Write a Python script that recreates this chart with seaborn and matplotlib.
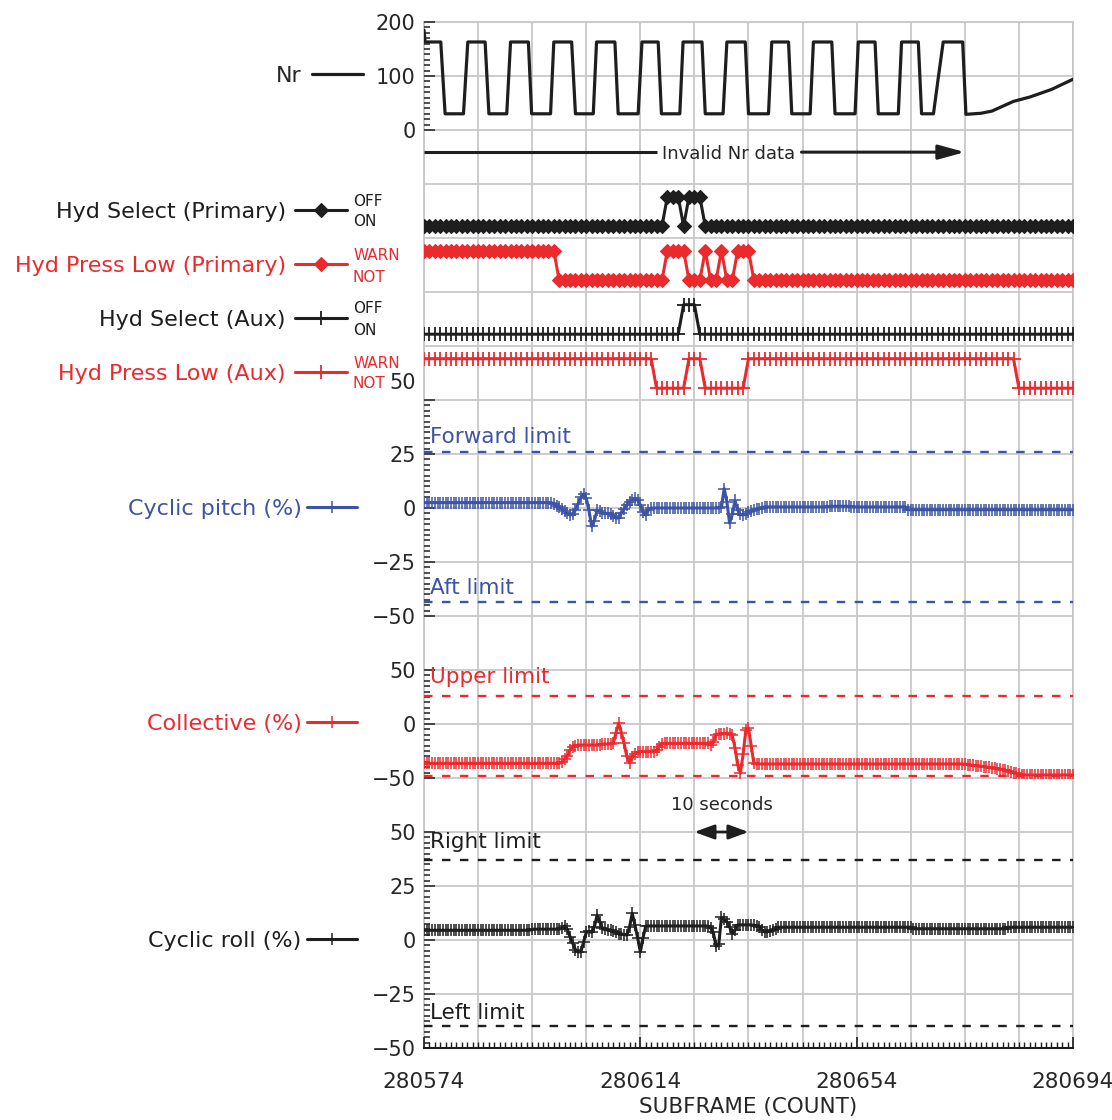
import numpy as np
import matplotlib
matplotlib.use("Agg")
import matplotlib.pyplot as plt
import seaborn as sns
from matplotlib.ticker import MultipleLocator

# ------------------------------------------------------------------ data
subframe_start, subframe_end = 280574, 280694
x_tick_values = [280574, 280614, 280654, 280694]
x_tick_labels = ["280574", "280614", "280654", "280694"]
x_axis_title = "SUBFRAME (COUNT)"

# Nr trace, corner points (offset from first subframe, value)
nr_offset = [0, 0.2, 3.1, 3.9, 7.3, 8.1, 11.3, 12.0, 15.3, 16.0, 19.3, 19.9,
             23.4, 24.0, 27.3, 28.0, 31.3, 31.9, 35.3, 35.9, 39.6, 40.3,
             43.3, 43.9, 47.3, 47.9, 51.4, 52.0, 55.3, 56.0, 59.4, 60.0,
             63.7, 64.3, 67.4, 68.0, 71.4, 72.0, 75.4, 76.0, 79.7, 80.3,
             83.4, 84.0, 87.7, 88.3, 91.4, 92.0, 94.2, 95.0, 96.0, 99.6,
             100.2, 103, 105, 107, 109, 112, 116, 120]
nr_value = [185, 163, 163, 30, 30, 163, 163, 30, 30, 163, 163, 30,
            30, 163, 163, 30, 30, 163, 163, 30, 30, 163,
            163, 30, 30, 163, 163, 30, 30, 163, 163, 30,
            30, 163, 163, 30, 30, 163, 163, 30, 30, 163,
            163, 30, 30, 163, 163, 30, 30, 90, 163, 163,
            29, 31, 35, 44, 53, 61, 75, 94]

# discrete channels, one sample per subframe (1 = OFF / WARN, 0 = ON / NOT)
hyd_select_primary = ("0000000000" "0000000000" "0000000000" "0000000000"
                      "0000011101" "1100000000" "0000000000" "0000000000"
                      "0000000000" "0000000000" "0000000000" "0000000000" "0")
hyd_press_low_primary = ("1111111111" "1111111111" "1111100000" "0000000000"
                         "0000011110" "0010010011" "1000000000" "0000000000"
                         "0000000000" "0000000000" "0000000000" "0000000000" "0")
hyd_select_aux = ("0000000000" "0000000000" "0000000000" "0000000000"
                  "0000000011" "1000000000" "0000000000" "0000000000"
                  "0000000000" "0000000000" "0000000000" "0000000000" "0")
hyd_press_low_aux = ("1111111111" "1111111111" "1111111111" "1111111111"
                     "1110000001" "1100000000" "1111111111" "1111111111"
                     "1111111111" "1111111111" "1111111111" "0000000000" "0")

# analog channels, two samples per subframe
cyclic_pitch = [
    2.5, 2.5, 2.5, 2.5, 2.5, 2.5, 2.5, 2.5, 2.5, 2.5,
    2.5, 2.5, 2.5, 2.5, 2.5, 2.5, 2.5, 2.5, 2.5, 2.5,
    2.5, 2.5, 2.5, 2.5, 2.5, 2.5, 2.5, 2.5, 2.5, 2.5,
    2.5, 2.5, 2.5, 2.5, 2.5, 2.5, 2.5, 2.5, 2.5, 2.5,
    2.5, 2.5, 2.5, 2.5, 2.5, 2.5, 2.5, 2.5, 2.0, 1.0,
    0.5, -0.5, -1.5, -2.5, -3.2, -3.0, -1.0, 2.0, 5.0, 6.5,
    4.5, -1.0, -8.5, -6.0, -1.0, -1.5, -2.5, -2.5, -2.5, -2.8,
    -3.5, -4.8, -4.5, -2.5, -0.5, 1.5, 2.8, 3.5, 4.5, 3.5,
    1.5, -2.0, -3.2, -1.0, 0.0, 0.0, 0.0, 0.0, 0.0, 0.0,
    0.0, 0.0, 0.0, 0.0, 0.0, 0.0, 0.0, 0.0, 0.0, 0.0,
    0.0, 0.0, 0.0, 0.0, 0.0, 0.0, 0.0, 0.0, 0.0, 0.0,
    0.5, 9.0, 3.0, -7.0, -3.0, 3.5, -1.0, -3.0, -3.2, -3.0,
    -2.0, -1.5, -1.0, -0.5, -0.3, 0.2, 0.5, 0.5, 0.5, 0.5,
    0.5, 0.5, 0.5, 0.5, 0.5, 0.5, 0.5, 0.5, 0.5, 0.5,
    0.5, 0.5, 0.5, 0.5, 0.5, 0.5, 0.5, 0.5, 0.5, 0.5,
    0.8, 0.8, 0.8, 0.8, 0.8, 0.8, 0.8, 0.8, 0.5, 0.5,
    0.5, 0.5, 0.5, 0.5, 0.5, 0.5, 0.5, 0.5, 0.5, 0.5,
    0.5, 0.5, 0.5, 0.5, 0.5, 0.5, 0.5, 0.5, 0.5, -0.8,
    -0.8, -0.8, -0.8, -0.8, -0.8, -0.8, -0.8, -0.8, -0.8, -0.8,
    -0.8, -0.8, -0.8, -0.8, -0.8, -0.8, -0.8, -0.8, -0.8, -0.8,
    -0.8, -0.8, -0.8, -0.8, -0.8, -0.8, -0.8, -0.8, -0.8, -0.8,
    -0.8, -0.8, -0.8, -0.8, -0.8, -0.8, -0.8, -0.8, -0.8, -0.8,
    -0.8, -0.8, -0.8, -0.8, -0.8, -0.8, -0.8, -0.8, -0.8, -0.8,
    -0.8, -0.8, -0.8, -0.8, -0.8, -0.8, -0.8, -0.8, -0.8, -0.8,
    -0.8]
collective = [
    -36.5, -36.5, -36.5, -36.5, -36.5, -36.5, -36.5, -36.5, -36.5, -36.5,
    -36.5, -36.5, -36.5, -36.5, -36.5, -36.5, -36.5, -36.5, -36.5, -36.5,
    -36.5, -36.5, -36.5, -36.5, -36.5, -36.5, -36.5, -36.5, -36.5, -36.5,
    -36.5, -36.5, -36.5, -36.5, -36.5, -36.5, -36.5, -36.5, -36.5, -36.5,
    -36.5, -36.5, -36.5, -36.5, -36.5, -36.5, -36.5, -36.5, -36.5, -36.5,
    -36.5, -35.0, -32.0, -30.0, -24.0, -21.5, -20.5, -19.5, -19.5, -19.5,
    -19.5, -19.5, -19.5, -19.5, -19.5, -19.5, -18.5, -18.5, -18.5, -18.5,
    -18.0, -8.0, 0.5, -8.0, -18.0, -30.0, -36.0, -31.0, -27.5, -26.0,
    -25.5, -25.5, -25.5, -25.5, -25.5, -25.5, -24.0, -21.0, -18.5, -18.0,
    -18.0, -18.0, -18.0, -18.0, -18.0, -18.0, -18.0, -18.0, -18.0, -18.0,
    -18.0, -18.0, -18.0, -18.0, -18.0, -18.0, -19.0, -17.0, -10.0, -9.0,
    -9.0, -9.0, -8.5, -9.0, -10.5, -22.0, -38.0, -45.5, -28.0, -6.0,
    -4.0, -20.0, -36.5, -37.0, -37.0, -37.0, -37.0, -37.0, -37.0, -37.0,
    -37.0, -37.0, -37.0, -37.0, -37.0, -37.0, -37.0, -37.0, -37.0, -37.0,
    -37.0, -37.0, -37.0, -37.0, -37.0, -37.0, -37.0, -37.0, -37.0, -37.0,
    -37.0, -37.0, -37.0, -37.0, -37.0, -37.0, -37.0, -37.0, -37.0, -37.0,
    -37.0, -37.0, -37.0, -37.0, -37.0, -37.0, -37.0, -37.0, -37.0, -37.0,
    -37.0, -37.0, -37.0, -37.0, -37.0, -37.0, -37.0, -37.0, -37.0, -37.0,
    -37.0, -37.0, -37.0, -37.0, -37.0, -37.0, -37.0, -37.0, -37.0, -37.0,
    -37.0, -37.0, -37.0, -37.0, -37.0, -37.0, -37.0, -37.0, -37.0, -37.0,
    -37.0, -37.5, -38.0, -38.3, -38.5, -38.8, -39.0, -39.5, -40.0, -40.2,
    -40.5, -41.0, -41.3, -41.8, -42.3, -42.8, -43.3, -44.0, -45.0, -45.7,
    -46.5, -47.2, -47.2, -47.2, -47.2, -47.2, -47.2, -47.2, -47.2, -47.2,
    -47.2, -47.2, -47.2, -47.2, -47.2, -47.2, -47.2, -47.2, -47.2, -47.2,
    -47.2]
cyclic_roll = [
    4.5, 4.5, 4.5, 4.5, 4.5, 4.5, 4.5, 4.5, 4.5, 4.5,
    4.5, 4.5, 4.5, 4.5, 4.5, 4.5, 4.5, 4.5, 4.5, 4.5,
    4.5, 4.5, 4.5, 4.5, 4.5, 4.5, 4.5, 4.5, 4.5, 4.5,
    4.5, 4.5, 4.5, 4.5, 4.5, 4.5, 4.5, 4.5, 4.5, 4.5,
    5.0, 5.0, 5.0, 5.0, 5.0, 5.0, 5.0, 5.0, 5.0, 5.0,
    5.0, 5.5, 6.5, 5.0, 1.5, -1.5, -4.5, -5.5, -5.5, -1.0,
    3.5, 4.0, 3.5, 6.0, 11.5, 8.5, 5.5, 5.0, 4.5, 4.5,
    4.0, 3.5, 3.0, 2.8, 2.5, 2.3, 6.0, 12.3, 7.0, 1.0,
    -5.5, 1.0, 6.5, 6.5, 6.5, 6.5, 6.5, 6.5, 6.5, 6.5,
    6.5, 6.5, 6.5, 6.5, 6.5, 6.5, 6.5, 6.5, 6.5, 6.5,
    6.5, 6.5, 6.5, 6.5, 6.5, 6.5, 5.5, 3.5, -3.0, -2.0,
    10.5, 9.5, 8.5, 6.0, 3.0, 4.5, 7.0, 7.0, 7.0, 7.0,
    7.0, 7.0, 6.8, 6.5, 6.2, 4.5, 3.8, 3.8, 4.2, 4.6,
    5.3, 5.9, 5.9, 5.9, 5.9, 5.9, 5.9, 5.9, 5.9, 5.9,
    5.9, 5.9, 5.9, 5.9, 5.9, 5.9, 5.9, 5.9, 5.9, 5.9,
    5.9, 5.9, 5.9, 5.9, 5.9, 5.9, 5.9, 5.9, 5.9, 5.9,
    5.9, 5.9, 5.9, 5.9, 5.9, 5.9, 5.9, 5.9, 5.9, 5.9,
    5.9, 5.9, 5.9, 5.9, 5.9, 5.9, 5.9, 5.9, 5.9, 5.9,
    5.9, 5.2, 5.2, 5.2, 5.2, 5.2, 5.2, 5.2, 5.2, 5.2,
    5.2, 5.2, 5.2, 5.2, 5.2, 5.2, 5.2, 5.2, 5.2, 5.2,
    5.2, 5.2, 5.2, 5.2, 5.2, 5.2, 5.2, 5.2, 5.2, 5.2,
    5.2, 5.2, 5.2, 5.2, 5.2, 5.2, 5.9, 5.9, 5.9, 5.9,
    5.9, 5.9, 5.9, 5.9, 5.9, 5.9, 5.9, 5.9, 5.9, 5.9,
    5.9, 5.9, 5.9, 5.9, 5.9, 5.9, 5.9, 5.9, 5.9, 5.9,
    5.9]

forward_limit, aft_limit = 26, -43.5
upper_limit, lower_limit = 26, -48.5
right_limit, left_limit = 37, -40

# Invalid-Nr arrow and 10 second bar (subframe positions)
invalid_from, invalid_to = 280574, 280674
ten_sec_from, ten_sec_to = 280624, 280634

assert len(cyclic_pitch) == 241 and len(collective) == 241 and len(cyclic_roll) == 241
assert all(len(s) == 121 for s in (hyd_select_primary, hyd_press_low_primary,
                                   hyd_select_aux, hyd_press_low_aux))

disc_x = np.arange(subframe_start, subframe_end + 1)
analog_x = subframe_start + 0.5 * np.arange(len(cyclic_pitch))
nr_x = subframe_start + np.array(nr_offset)

# ------------------------------------------------------------------ style
sns.set_theme(style="white")
plt.rcParams["font.family"] = ["DejaVu Sans"]
plt.rcParams["axes.unicode_minus"] = True

BLACK = "#1e1e1e"
RED = "#eb2a2e"
BLUE = "#3d53a5"
GRID = "#c8c8cc"
TXT = "#262626"

W, H = 1112, 1120
fig = plt.figure(figsize=(W / 100, H / 100), dpi=100)
fig.patch.set_facecolor("white")


def fx(p):
    return p / W


def fy(p):
    return 1 - p / H


L_PX, R_PX = 424, 1073


def make_ax(top, bot):
    ax = fig.add_axes([fx(L_PX), fy(bot), (R_PX - L_PX) / W, (bot - top) / H])
    ax.set_xlim(subframe_start, subframe_end)
    ax.set_facecolor("none")
    for s in ax.spines.values():
        s.set_visible(False)
    ax.tick_params(axis="both", which="both", bottom=False, left=False, top=False,
                   right=False, labelbottom=False, labelleft=False)
    ax.grid(False)
    return ax


def clean(ax):
    ax.set_xlabel("")
    ax.set_ylabel("")


def side_legend(ax, right_px, y_px, color, hlen, tpad, fs=16):
    h, l = ax.get_legend_handles_labels()
    ax.legend(h[:1], l[:1], loc="center right",
              bbox_to_anchor=(fx(right_px), fy(y_px)), bbox_transform=fig.transFigure,
              markerfirst=False, frameon=False, borderpad=0, borderaxespad=0,
              handlelength=hlen, handletextpad=tpad, fontsize=fs, labelcolor=color,
              numpoints=1)


def numeric_y(ax, ticks, labels, minor):
    ax.set_yticks(ticks, labels)
    ax.yaxis.set_minor_locator(MultipleLocator(minor))
    ax.tick_params(axis="y", which="both", left=True, labelleft=True,
                   direction="in", color=BLACK, width=1.1)
    ax.tick_params(axis="y", which="major", length=8, labelsize=15, pad=6,
                   labelcolor=TXT)
    ax.tick_params(axis="y", which="minor", length=4)


# background grid
bg = make_ax(22, 1048)
bg.set_facecolor("white")
bg.set_ylim(0, 19)
bg.set_xticks(np.arange(subframe_start, subframe_end + 1, 10))
bg.set_yticks(np.arange(0, 20))
bg.tick_params(length=0)
bg.grid(True, color=GRID, linewidth=1.3)
for s in bg.spines.values():
    s.set_visible(True)
    s.set_color(GRID)
    s.set_linewidth(1.3)

# ---- Nr
ax_nr = make_ax(22, 130)
ax_nr.set_ylim(0, 200)
sns.lineplot(x=nr_x, y=nr_value, ax=ax_nr, color=BLACK, linewidth=2.3,
             sort=False, estimator=None, errorbar=None, label="Nr")
clean(ax_nr)
numeric_y(ax_nr, [0, 100, 200], ["0", "100", "200"], 10)
side_legend(ax_nr, 363, 76, TXT, 2.3, 0.45)

# ---- invalid Nr arrow
ax_arr = make_ax(130, 184)
ax_arr.set_ylim(0, 1)
arrow_y = 0.59
ax_arr.plot([invalid_from, 280617.0], [arrow_y, arrow_y], color=BLACK, lw=2.2,
            solid_capstyle="butt")
ax_arr.annotate("", xy=(invalid_to, arrow_y), xytext=(280643.8, arrow_y),
                arrowprops=dict(arrowstyle="-|>,head_length=0.8,head_width=0.22",
                                mutation_scale=20, lw=2.2, color=BLACK,
                                shrinkA=0, shrinkB=0))
ax_arr.text(280630.3, arrow_y - 0.04, "Invalid Nr data", ha="center", va="center",
            fontsize=13, color=TXT)


# ---- discrete rows
def discrete_row(top, bot, bits, color, marker, ms, mew, name, hi, lo,
                 label_y, hi_y, lo_y):
    ax = make_ax(top, bot)
    ax.set_ylim(-0.4, 1.43)
    vals = [int(c) for c in bits]
    sns.lineplot(x=disc_x, y=vals, ax=ax, color=color, linewidth=2.2, marker=marker,
                 markersize=ms, markeredgewidth=mew, markeredgecolor=color,
                 markerfacecolor=color, estimator=None, errorbar=None, label=name)
    clean(ax)
    side_legend(ax, 347, label_y, color, 2.35, 0.4)
    fig.text(fx(353), fy(hi_y), hi, color=color, fontsize=11, ha="left", va="center")
    fig.text(fx(353), fy(lo_y), lo, color=color, fontsize=11, ha="left", va="center")
    return ax


discrete_row(184, 238, hyd_select_primary, BLACK, "D", 7.5, 0.8,
             "Hyd Select (Primary)", "OFF", "ON", 212, 201.5, 222)
discrete_row(238, 292, hyd_press_low_primary, RED, "D", 7.5, 0.8,
             "Hyd Press Low (Primary)", "WARN", "NOT", 266, 255, 277)
discrete_row(292, 346, hyd_select_aux, BLACK, "+", 9.5, 1.3,
             "Hyd Select (Aux)", "OFF", "ON", 320, 308.5, 330)
discrete_row(346, 400, hyd_press_low_aux, RED, "+", 9.5, 1.3,
             "Hyd Press Low (Aux)", "WARN", "NOT", 374, 363, 384)


# ---- analog panels
def analog_panel(top, bot, vals, color, name, ticks, labels, minor, label_y,
                 limits):
    ax = make_ax(top, bot)
    ax.set_ylim(-50, 50)
    sns.lineplot(x=analog_x, y=vals, ax=ax, color=color, linewidth=2.2, marker="+",
                 markersize=9, markeredgewidth=1.1, markeredgecolor=color,
                 estimator=None, errorbar=None, label=name)
    clean(ax)
    for val, txt, frac in limits:
        ax.axhline(val, color=color, lw=1.7, ls=(0, (3.6, 4.0)))
        if txt:
            ax.text(0.009, frac, txt, transform=ax.transAxes, color=color,
                    fontsize=15.5, ha="left", va="baseline")
    numeric_y(ax, ticks, labels, minor)
    side_legend(ax, 357, label_y, color, 2.25, 0.25)
    return ax


ax_p = analog_panel(400, 616, cyclic_pitch, BLUE, "Cyclic pitch (%)",
                    [-50, -25, 0, 25, 50], ["\u221250", "\u221225", "0", "25", ""],
                    2.5, 509,
                    [(forward_limit, "Forward limit", 0.80),
                     (aft_limit, "Aft limit", 0.102)])
ax_p.annotate("50", xy=(0, 50), xycoords=("axes fraction", "data"),
              xytext=(-6, 12), textcoords="offset points", ha="right", va="center",
              fontsize=15, color=TXT)

ax_c = analog_panel(670, 778, collective, RED, "Collective (%)",
                    [-50, 0, 50], ["\u221250", "0", "50"], 5, 724,
                    [(upper_limit, "Upper limit", 0.88),
                     (lower_limit, "", 0.0)])

# ---- 10 seconds bar
ax_ten = make_ax(778, 832)
ax_ten.set_ylim(0, 1)
ax_ten.annotate("", xy=(ten_sec_to, 0.0), xytext=(ten_sec_from, 0.0),
                arrowprops=dict(arrowstyle="<|-|>,head_length=0.6,head_width=0.22",
                                mutation_scale=20, lw=2.0, color=BLACK,
                                shrinkA=0, shrinkB=0), annotation_clip=False)
ax_ten.text((ten_sec_from + ten_sec_to) / 2, 0.5, "10 seconds", ha="center",
            va="center", fontsize=13, color=TXT)

ax_r = analog_panel(832, 1048, cyclic_roll, BLACK, "Cyclic roll (%)",
                    [-50, -25, 0, 25, 50], ["\u221250", "\u221225", "0", "25", "50"],
                    2.5, 941,
                    [(right_limit, "Right limit", 0.925),
                     (left_limit, "Left limit", 0.133)])
ax_r.set_xticks(x_tick_values, x_tick_labels)
ax_r.set_xlim(subframe_start, subframe_end)
ax_r.xaxis.set_minor_locator(MultipleLocator(1))
ax_r.tick_params(axis="x", which="both", bottom=True, labelbottom=True,
                 direction="in", color=BLACK)
ax_r.tick_params(axis="x", which="major", length=8, width=1.2, labelsize=15.5,
                 pad=17, labelcolor=TXT)
ax_r.tick_params(axis="x", which="minor", length=4, width=1.0)
ax_r.spines["bottom"].set_visible(True)
ax_r.spines["bottom"].set_color(BLACK)
ax_r.spines["bottom"].set_linewidth(1.5)
fig.text(fx(748), fy(1107), x_axis_title, ha="center", va="center",
         fontsize=15.5, color=TXT)

fig.savefig("out.png", dpi=100, facecolor="white")
